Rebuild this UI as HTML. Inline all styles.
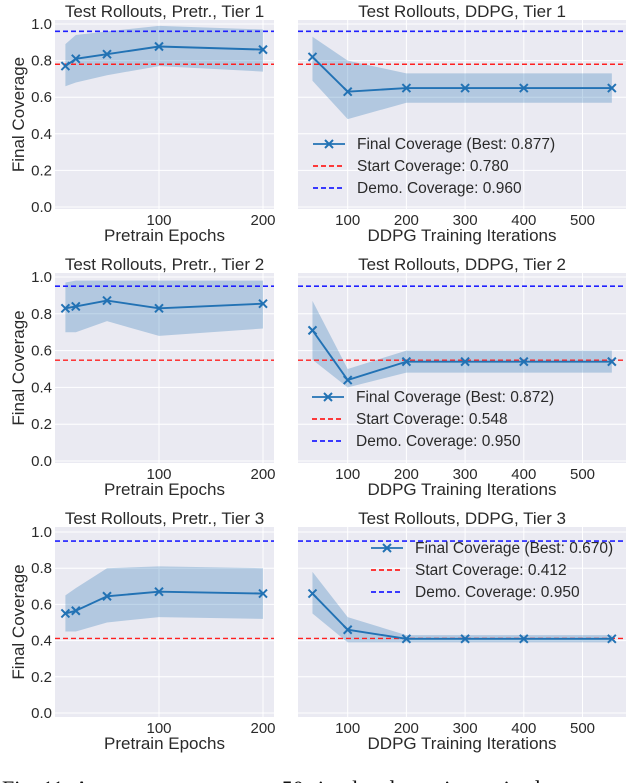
<!DOCTYPE html>
<html><head><meta charset="utf-8"><style>
body{margin:0;background:#fff;width:640px;height:783px;overflow:hidden;font-family:"Liberation Sans",sans-serif}
svg{display:block}
</style></head><body>
<svg id="fig" width="640" height="783" xmlns="http://www.w3.org/2000/svg"></svg>
<script>
// data
const preX=[10,20,50,100,200];
const ddX=[40,100,200,300,400,550];
const pre1Mean=[0.77,0.81,0.835,0.877,0.86];
const pre1Lo=[0.66,0.68,0.72,0.77,0.74];
const pre1Hi=[0.89,0.94,0.96,0.99,0.97];
const dd1Mean=[0.82,0.63,0.65,0.65,0.65,0.65];
const dd1Lo=[0.69,0.48,0.57,0.57,0.57,0.57];
const dd1Hi=[0.93,0.80,0.73,0.73,0.73,0.73];
const pre2Mean=[0.83,0.84,0.872,0.83,0.855];
const pre2Lo=[0.70,0.70,0.76,0.68,0.72];
const pre2Hi=[0.97,0.98,0.98,0.98,0.98];
const dd2Mean=[0.71,0.44,0.54,0.54,0.54,0.54];
const dd2Lo=[0.55,0.40,0.48,0.48,0.48,0.48];
const dd2Hi=[0.87,0.50,0.60,0.60,0.60,0.60];
const pre3Mean=[0.55,0.565,0.645,0.67,0.66];
const pre3Lo=[0.45,0.45,0.50,0.53,0.52];
const pre3Hi=[0.65,0.69,0.80,0.81,0.80];
const dd3Mean=[0.66,0.46,0.41,0.41,0.41,0.41];
const dd3Lo=[0.55,0.39,0.39,0.39,0.39,0.39];
const dd3Hi=[0.78,0.53,0.43,0.43,0.43,0.43];
const startCov=[0.780,0.548,0.412];
const demoCov=[0.960,0.950,0.950];
const bestCov=["0.877","0.872","0.670"];
const yTicks=[0,0.2,0.4,0.6,0.8,1.0];
const yTickLabels=["0.0","0.2","0.4","0.6","0.8","1.0"];
const preTicks=[100,200];
const ddTicks=[100,200,300,400,500];

const NS="http://www.w3.org/2000/svg";
const svg=document.getElementById('fig');
function mk(tag,attrs,parent,text){const e=document.createElementNS(NS,tag);for(const k in attrs)e.setAttribute(k,attrs[k]);if(text!==undefined)e.textContent=text;(parent||svg).appendChild(e);return e;}

const rows=[{top:20,bot:209,y1:24,y0:207},{top:273,bot:463,y1:277,y0:461},{top:527,bot:717,y1:532,y0:713}];
const panels=[
 {left:55,right:274,xs:v=>55+v*1.04,ticks:preTicks,xl:"Pretrain Epochs",title:"Test Rollouts, Pretr., Tier ",x:preX},
 {left:298,right:626,xs:v=>289+v*0.587,ticks:ddTicks,xl:"DDPG Training Iterations",title:"Test Rollouts, DDPG, Tier ",x:ddX}];
const series=[[ [pre1Mean,pre1Lo,pre1Hi],[dd1Mean,dd1Lo,dd1Hi] ],[ [pre2Mean,pre2Lo,pre2Hi],[dd2Mean,dd2Lo,dd2Hi] ],[ [pre3Mean,pre3Lo,pre3Hi],[dd3Mean,dd3Lo,dd3Hi] ]];
const legendPos=[{x:313,y:144},{x:312,y:397},{x:371,y:548}];
const txt="#2a2a2a";

rows.forEach((r,ri)=>{
 const ys=v=>r.y0-(r.y0-r.y1)*v;
 panels.forEach((p,pi)=>{
  const g=mk('g',{});
  
  
  const bg=mk('rect',{x:p.left,y:r.top,width:p.right-p.left,height:r.bot-r.top,fill:'#eaeaf2'},g);
  
  
  yTicks.forEach((t,i)=>{
   mk('line',{x1:p.left,x2:p.right,y1:ys(t),y2:ys(t),stroke:'#fff','stroke-width':1},g);
   if(pi===0){const l=mk('text',{x:52,y:ys(t)+5,'text-anchor':'end','font-size':15,fill:txt},g,yTickLabels[i]);
    }
  });
  p.ticks.forEach(t=>{
   mk('line',{x1:p.xs(t),x2:p.xs(t),y1:r.top,y2:r.bot,stroke:'#fff','stroke-width':1},g);
   const l=mk('text',{x:p.xs(t),y:r.bot+16,'text-anchor':'middle','font-size':15,fill:txt},g,String(t));
   
  });
  const [m,lo,hi]=series[ri][pi];
  let d='';p.x.forEach((x,i)=>{d+=(i?'L':'M')+p.xs(x)+','+ys(hi[i]);});
  for(let i=p.x.length-1;i>=0;i--)d+='L'+p.xs(p.x[i])+','+ys(lo[i]);
  const band=mk('path',{d:d+'Z',fill:'#1f6fb4','fill-opacity':0.28},g);
  
  const sl=mk('line',{x1:p.left,x2:p.right,y1:ys(startCov[ri]),y2:ys(startCov[ri]),stroke:'#ff2020','stroke-width':1.4,'stroke-dasharray':'5,3'},g);
  
  const dl=mk('line',{x1:p.left,x2:p.right,y1:ys(demoCov[ri]),y2:ys(demoCov[ri]),stroke:'#2020ff','stroke-width':1.6,'stroke-dasharray':'5,3'},g);
  
  const pts=p.x.map((x,i)=>p.xs(x)+','+ys(m[i])).join(' ');
  const pl=mk('polyline',{points:pts,fill:'none',stroke:'#2272b4','stroke-width':1.9},g);
  
  p.x.forEach((x,i)=>{const cx=p.xs(x),cy=ys(m[i]);
   const mkr=mk('path',{d:`M${cx-4},${cy-4}L${cx+4},${cy+4}M${cx-4},${cy+4}L${cx+4},${cy-4}`,stroke:'#2272b4','stroke-width':2},g);
   });
  const tt=mk('text',{x:(p.left+p.right)/2,y:r.top-3,'text-anchor':'middle','font-size':17,fill:txt},g,p.title+(ri+1));
  
  const xl=mk('text',{x:(p.left+p.right)/2,y:r.bot+32,'text-anchor':'middle','font-size':17,fill:txt},g,p.xl);
  
 });
 const yc=(r.top+r.bot)/2;
 const yt=mk('text',{x:24,y:yc,'text-anchor':'middle','font-size':17,fill:txt,transform:`rotate(-90 24 ${yc})`},svg,'Final Coverage');
 
 const L=legendPos[ri];
 const lg=mk('g',{});
 
 const items=[["Final Coverage (Best: "+bestCov[ri]+")","#2272b4",null],["Start Coverage: "+startCov[ri].toFixed(3),"#ff2020","5,3"],["Demo. Coverage: "+demoCov[ri].toFixed(3),"#2020ff","5,3"]];
 items.forEach((it,i)=>{const y=L.y+i*22;
  const e=mk('g',{},lg);
  const a={x1:L.x,x2:L.x+32,y1:y,y2:y,stroke:it[1],'stroke-width':1.7};if(it[2])a['stroke-dasharray']=it[2];
  mk('line',a,e);
  if(i===0){const cx=L.x+16;mk('path',{d:`M${cx-4},${y-4}L${cx+4},${y+4}M${cx-4},${y+4}L${cx+4},${y-4}`,stroke:it[1],'stroke-width':2},e);}
  mk('text',{x:L.x+44,y:y+5,'font-size':15.5,fill:txt},e,it[0]);
 });
});
const cap=mk('text',{x:2,y:796,'font-size':22,fill:'#111','font-family':'Liberation Serif, serif'},svg,'Fig. 11: Average coverage over 50 simulated test-time episodes at');

</script>
</body></html>
